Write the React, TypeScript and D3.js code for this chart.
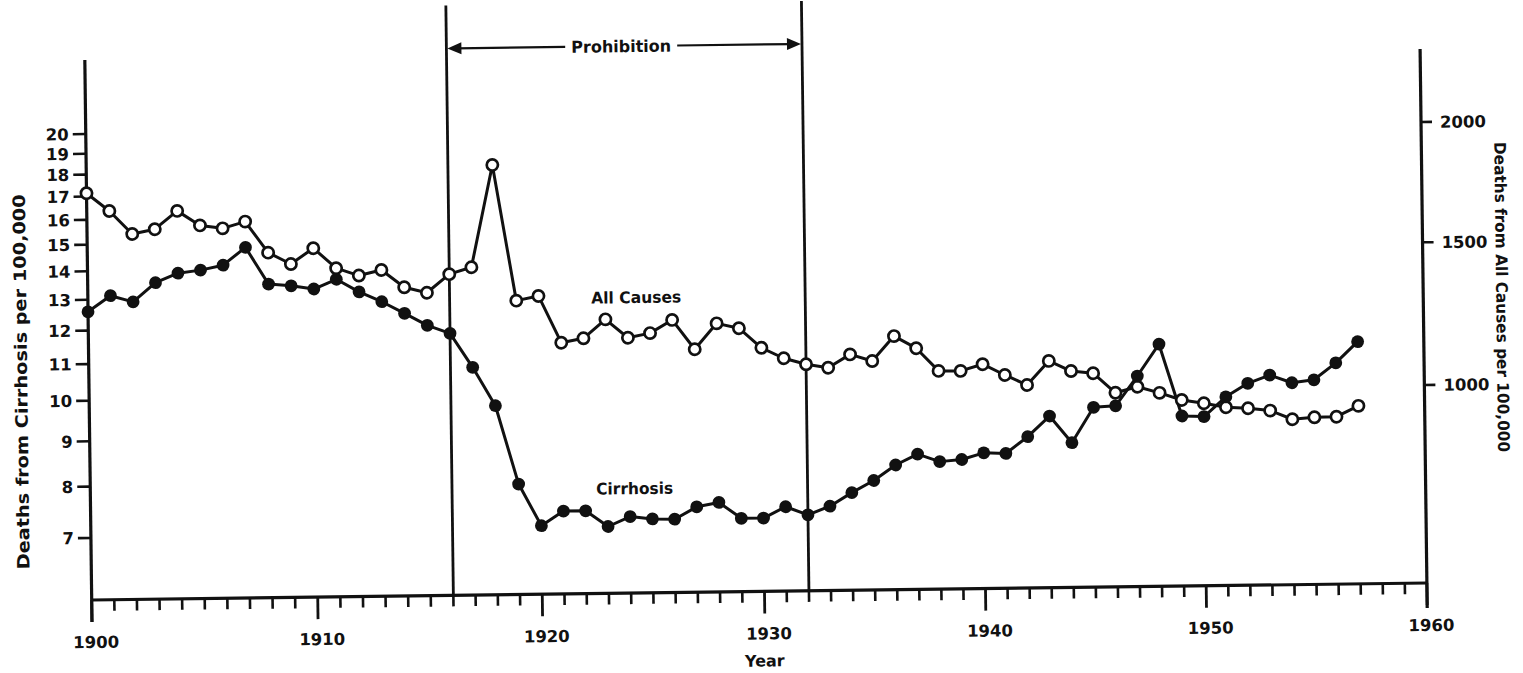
import React from "react";
import * as d3 from "d3";

// ---------- data ----------
const years = [
  1900, 1901, 1902, 1903, 1904, 1905, 1906, 1907, 1908, 1909,
  1910, 1911, 1912, 1913, 1914, 1915, 1916, 1917, 1918, 1919,
  1920, 1921, 1922, 1923, 1924, 1925, 1926, 1927, 1928, 1929,
  1930, 1931, 1932, 1933, 1934, 1935, 1936, 1937, 1938, 1939,
  1940, 1941, 1942, 1943, 1944, 1945, 1946, 1947, 1948, 1949,
  1950, 1951, 1952, 1953, 1954, 1955, 1956, 1957,
];

// Deaths from cirrhosis per 100,000 (left, log axis)
const cirrhosis = [
  12.6, 13.13, 12.91, 13.56, 13.89, 13.99, 14.16, 14.82, 13.46, 13.39,
  13.27, 13.6, 13.15, 12.81, 12.42, 12.03, 11.77, 10.77, 9.74, 7.94,
  7.12, 7.39, 7.39, 7.09, 7.27, 7.22, 7.21, 7.44, 7.52, 7.21,
  7.21, 7.42, 7.26, 7.42, 7.68, 7.92, 8.24, 8.47, 8.3, 8.34,
  8.48, 8.46, 8.83, 9.31, 8.68, 9.51, 9.54, 10.3, 11.18, 9.27,
  9.25, 9.73, 10.07, 10.28, 10.07, 10.14, 10.59, 11.18,
];

// Deaths from all causes per 100,000 (right axis)
const allCauses = [
  1766, 1691, 1597, 1615, 1688, 1628, 1615, 1641, 1517, 1472,
  1532, 1454, 1425, 1445, 1379, 1358, 1426, 1451, 1864, 1325,
  1341, 1175, 1189, 1254, 1189, 1204, 1249, 1147, 1235, 1217,
  1149, 1113, 1092, 1080, 1123, 1100, 1183, 1141, 1065, 1064,
  1085, 1049, 1016, 1093, 1059, 1051, 988, 1006, 986, 963,
  952, 939, 935, 927, 900, 905, 906, 938,
];

const leftTicks = [7, 8, 9, 10, 11, 12, 13, 14, 15, 16, 17, 18, 19, 20];
const rightTicks = [1000, 1500, 2000];
const majorYears = [1900, 1910, 1920, 1930, 1940, 1950, 1960];
const minorYears = [
  1901, 1902, 1903, 1904, 1905, 1906, 1907, 1908, 1909,
  1911, 1912, 1913, 1914, 1915, 1916, 1917, 1918, 1919,
  1921, 1922, 1923, 1924, 1925, 1926, 1927, 1928, 1929,
  1931, 1932, 1933, 1934, 1935, 1936, 1937, 1938, 1939,
  1941, 1942, 1943, 1944, 1945, 1946, 1947, 1948, 1949,
  1951, 1952, 1953, 1954, 1955, 1956, 1957, 1958, 1959,
];
const prohibition = [1916, 1932];

// ---------- layout ----------
const W = 1523;
const H = 673;
const BASE = 600; // baseline of x-axis
const FONT = "'DejaVu Sans', 'Liberation Sans', Arial, sans-serif";
const INK = "#111";

// hand-drafted year axis (slightly uneven spacing in the original)
const x = d3
  .scaleLinear()
  .domain([1900, 1916, 1932, 1960])
  .range([91.7, 453.4, 809, 1427]);
const yLeft = d3.scaleLog().domain([7, 20]).range([538, 134]);
const yRight = d3.scalePow().exponent(0.5).domain([1000, 2000]).range([402, 139]);

export default function App() {
  const cirrPts: [number, number][] = years.map((yr, i) => [x(yr), yLeft(cirrhosis[i])]);
  const allPts: [number, number][] = years.map((yr, i) => [x(yr), yRight(allCauses[i])]);
  const line = d3.line();

  const xL = x(prohibition[0]);
  const xR = x(prohibition[1]);
  const arrowY = 53;
  const labelCx = (xL + xR) / 2 - 3;
  const labelHalf = 50;

  return (
    <svg
      width={W}
      height={H}
      style={{ position: "absolute", left: 0, top: 0, background: "#fff" }}
      fontFamily={FONT}
    >
      <rect x={0} y={0} width={W} height={H} fill="#fff" />
      <g transform={`rotate(-0.73, 91.7, ${BASE})`}>
        {/* prohibition lines */}
        {prohibition.map((yr) => (
          <line key={yr} x1={x(yr)} x2={x(yr)} y1={10} y2={BASE} stroke={INK} strokeWidth={2.8} />
        ))}
        {/* prohibition arrow */}
        <line x1={xL + 10} x2={labelCx - labelHalf - 6} y1={arrowY} y2={arrowY} stroke={INK} strokeWidth={2.2} />
        <line x1={labelCx + labelHalf + 6} x2={xR - 10} y1={arrowY} y2={arrowY} stroke={INK} strokeWidth={2.2} />
        <path d={`M${xL + 1},${arrowY} L${xL + 15},${arrowY - 6} L${xL + 15},${arrowY + 6} Z`} fill={INK} />
        <path d={`M${xR - 1},${arrowY} L${xR - 15},${arrowY - 6} L${xR - 15},${arrowY + 6} Z`} fill={INK} />
        <text
          x={labelCx}
          y={arrowY + 6}
          textAnchor="middle"
          fontSize={16.5}
          fontWeight="bold"
          fill={INK}
          textLength={labelHalf * 2}
          lengthAdjust="spacingAndGlyphs"
        >
          Prohibition
        </text>

        {/* x axis */}
        <line x1={x(1900)} x2={x(1960)} y1={BASE} y2={BASE} stroke={INK} strokeWidth={3.2} />
        {minorYears.map((yr) => (
          <line key={yr} x1={x(yr)} x2={x(yr)} y1={BASE} y2={BASE + 11} stroke={INK} strokeWidth={2.6} />
        ))}
        {majorYears.map((yr) => (
          <g key={yr}>
            <line x1={x(yr)} x2={x(yr)} y1={BASE} y2={BASE + 22} stroke={INK} strokeWidth={2.8} />
            <text x={x(yr) + 4} y={BASE + 48} textAnchor="middle" fontSize={16.5} fontWeight="bold" fill={INK}>
              {yr}
            </text>
          </g>
        ))}
        <text x={764} y={BASE + 75} textAnchor="middle" fontSize={16} fontWeight="bold" fill={INK}>
          Year
        </text>

        {/* left axis */}
        <line x1={x(1900)} x2={x(1900)} y1={60} y2={BASE + 22} stroke={INK} strokeWidth={3.2} />
        {leftTicks.map((t) => (
          <g key={t}>
            <line x1={x(1900) - 13} x2={x(1900)} y1={yLeft(t)} y2={yLeft(t)} stroke={INK} strokeWidth={2.6} />
            <text
              x={x(1900) - 17}
              y={yLeft(t) + 6}
              textAnchor="end"
              fontSize={16.5}
              fontWeight="bold"
              fill={INK}
            >
              {t}
            </text>
          </g>
        ))}
        <text
          transform={`translate(30, 381) rotate(-90)`}
          textAnchor="middle"
          fontSize={17}
          fontWeight="bold"
          fill={INK}
          textLength={375}
          lengthAdjust="spacingAndGlyphs"
        >
          Deaths from Cirrhosis per 100,000
        </text>

        {/* right axis */}
        <line x1={x(1960)} x2={x(1960)} y1={66} y2={BASE + 25} stroke={INK} strokeWidth={3.2} />
        {rightTicks.map((t) => (
          <g key={t}>
            <line x1={x(1960)} x2={x(1960) + 11} y1={yRight(t)} y2={yRight(t)} stroke={INK} strokeWidth={2.6} />
            <text x={x(1960) + 19} y={yRight(t) + 6} textAnchor="start" fontSize={16.5} fontWeight="bold" fill={INK}>
              {t}
            </text>
          </g>
        ))}
        <text
          transform={`translate(1500, 315) rotate(90)`}
          textAnchor="middle"
          fontSize={16}
          fontWeight="bold"
          fill={INK}
          textLength={310}
          lengthAdjust="spacingAndGlyphs"
        >
          Deaths from All Causes per 100,000
        </text>

        {/* series lines */}
        <path d={line(allPts) || ""} fill="none" stroke={INK} strokeWidth={3} strokeLinejoin="round" />
        <path d={line(cirrPts) || ""} fill="none" stroke={INK} strokeWidth={3} strokeLinejoin="round" />

        {/* markers */}
        {allPts.map(([px, py], i) => (
          <circle key={`a${i}`} cx={px} cy={py} r={5.6} fill="#fff" stroke={INK} strokeWidth={2.7} />
        ))}
        {cirrPts.map(([px, py], i) => (
          <circle key={`c${i}`} cx={px} cy={py} r={6.4} fill={INK} />
        ))}

        {/* series labels */}
        <text x={640} y={310} textAnchor="middle" fontSize={16} fontWeight="bold" fill={INK} textLength={90} lengthAdjust="spacingAndGlyphs">
          All Causes
        </text>
        <text x={636} y={501} textAnchor="middle" fontSize={16} fontWeight="bold" fill={INK} textLength={77} lengthAdjust="spacingAndGlyphs">
          Cirrhosis
        </text>
      </g>
    </svg>
  );
}
